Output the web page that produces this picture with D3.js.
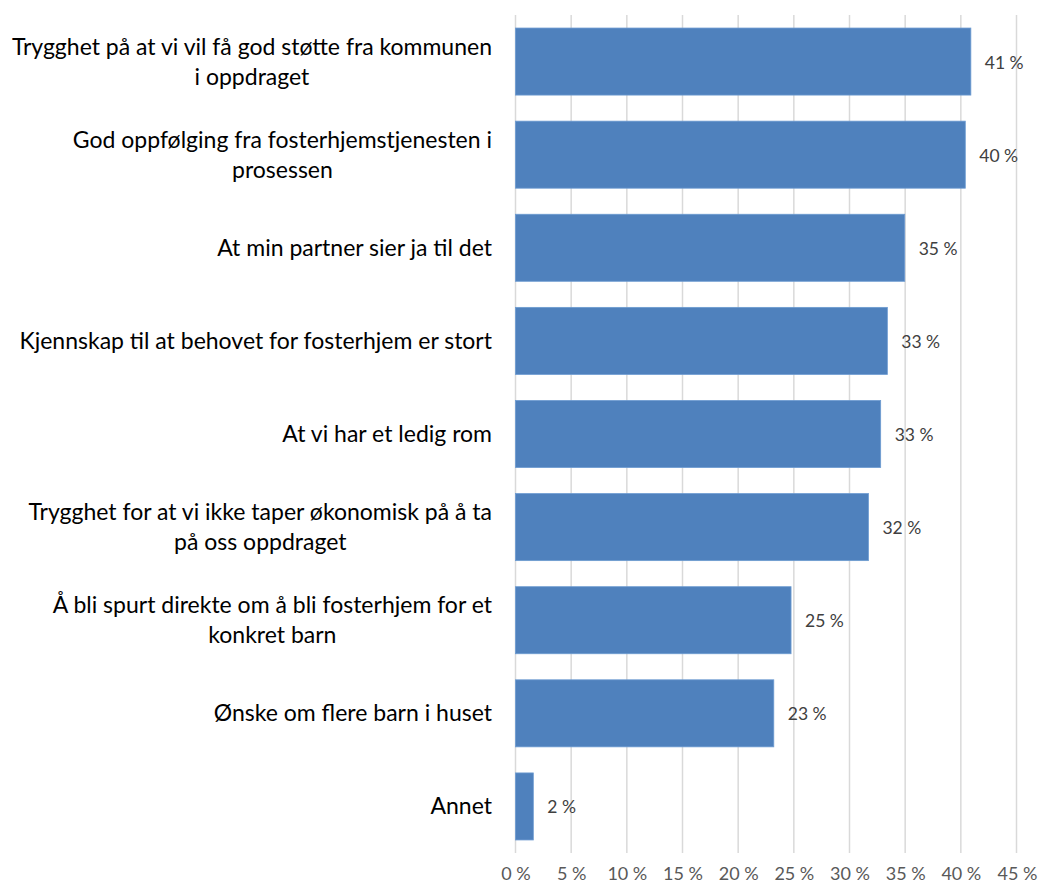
<!DOCTYPE html>
<html>
<head>
<meta charset="utf-8">
<script src="https://cdn.jsdelivr.net/npm/d3@7"></script>
<style>
  html, body { margin: 0; padding: 0; background: #fff; }
  svg { display: block; }
</style>
</head>
<body>
<svg id="chart" width="1038" height="886"></svg>
<script>
const categories = [
  ["Trygghet på at vi vil få god støtte fra kommunen", "i oppdraget"],
  ["God oppfølging fra fosterhjemstjenesten i", "prosessen"],
  ["At min partner sier ja til det"],
  ["Kjennskap til at behovet for fosterhjem er stort"],
  ["At vi har et ledig rom"],
  ["Trygghet for at vi ikke taper økonomisk på å ta", "på oss oppdraget"],
  ["Å bli spurt direkte om å bli fosterhjem for et", "konkret barn"],
  ["Ønske om flere barn i huset"],
  ["Annet"]
];
const values = [0.409, 0.404, 0.3496, 0.334, 0.328, 0.317, 0.2475, 0.232, 0.016];
const ticks = [0, 0.05, 0.10, 0.15, 0.20, 0.25, 0.30, 0.35, 0.40, 0.45];

const svg = d3.select("#chart");
const ids = categories.map((c, i) => i);

const x = d3.scaleLinear().domain([0, 0.45]).range([515.5, 1016.5]);
const y = d3.scaleBand().domain(ids).range([15, 853]).paddingInner(0.28).paddingOuter(0.14);

const fmt = v => Math.round(v * 100) + "\u00a0%";

// gridlines
svg.append("g").selectAll("line").data(ticks).join("line")
  .attr("x1", d => x(d)).attr("x2", d => x(d))
  .attr("y1", 15).attr("y2", 853)
  .attr("stroke", "#d9d9d9").attr("stroke-width", 1.5);

// x-axis tick labels
const xAxis = d3.axisBottom(x).tickValues(ticks).tickFormat(fmt).tickSize(0).tickPadding(0);
const gx = svg.append("g").attr("transform", "translate(0,867)").call(xAxis);
gx.select(".domain").remove();
gx.selectAll("text")
  .attr("font-family", "Lato, 'Open Sans', sans-serif")
  .attr("font-size", 18)
  .attr("fill", "#595959");
gx.selectAll(".tick").filter(d => d === 0.45).select("text")
  .attr("text-anchor", "end").attr("x", 1037 - x(0.45));

// bars
svg.append("g").selectAll("rect").data(values).join("rect")
  .attr("x", x(0))
  .attr("y", (d, i) => y(i))
  .attr("width", d => x(d) - x(0))
  .attr("height", y.bandwidth())
  .attr("fill", "#4f81bd")
  .attr("stroke", "#6d9bd1")
  .attr("stroke-width", 0.8);

// value labels
svg.append("g").selectAll("text").data(values).join("text")
  .attr("x", d => x(d) + 14)
  .attr("y", (d, i) => y(i) + y.bandwidth() / 2 + 7)
  .attr("font-family", "Lato, 'Open Sans', sans-serif")
  .attr("font-size", 17.5)
  .attr("fill", "#404040")
  .text(d => fmt(d));

// category labels (wrapped lines centered within a right-aligned block)
const labelRight = 492;
const lineH = 30;
const catG = svg.append("g");
categories.forEach((lines, i) => {
  const g = catG.append("g");
  const cy = y(i) + y.bandwidth() / 2;
  const texts = lines.map((ln, j) => g.append("text")
    .attr("font-family", "Lato, 'Open Sans', sans-serif")
    .attr("font-size", 23)
    .attr("fill", "#000")
    .attr("text-anchor", "middle")
    .attr("y", cy + (j - (lines.length - 1) / 2) * lineH + 8)
    .text(ln));
  const widths = texts.map(t => t.node().getComputedTextLength());
  const blockW = d3.max(widths);
  texts.forEach(t => t.attr("x", labelRight - blockW / 2));
});
</script>
</body>
</html>
